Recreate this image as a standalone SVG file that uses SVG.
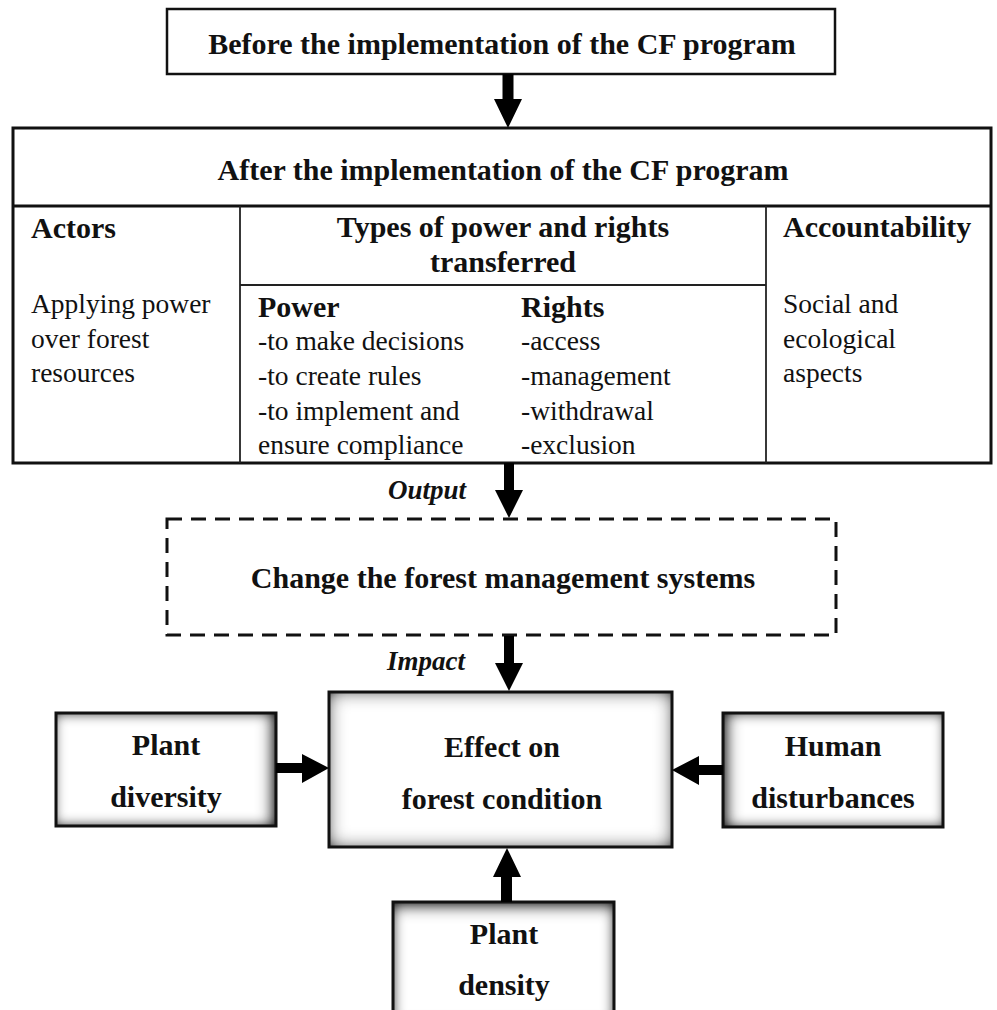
<svg xmlns="http://www.w3.org/2000/svg" width="997" height="1010" viewBox="0 0 997 1010">
<defs>
<style>
.b{font-family:"Liberation Serif","Times New Roman",serif;font-weight:bold;font-size:30px;fill:#111}
.r{font-family:"Liberation Serif","Times New Roman",serif;font-size:27.5px;fill:#111}
.i{font-family:"Liberation Serif","Times New Roman",serif;font-weight:bold;font-style:italic;font-size:27px;fill:#111}
.c{text-anchor:middle}
.box{fill:#fff;stroke:#111;stroke-width:2.5}
.edge{fill:none;stroke:#111;stroke-width:3}
.thin{fill:none;stroke:#222;stroke-width:1.8}
.sh{fill:#fff}
.arr{fill:#000}
</style>
<filter id="inAll" x="-20%" y="-20%" width="140%" height="140%">
  <feComponentTransfer in="SourceAlpha"><feFuncA type="table" tableValues="1 0"/></feComponentTransfer>
  <feGaussianBlur stdDeviation="9"/>
  <feComposite operator="in" in2="SourceAlpha"/>
  <feComponentTransfer><feFuncA type="linear" slope="1.25"/></feComponentTransfer>
  <feMerge><feMergeNode in="SourceGraphic"/><feMergeNode/></feMerge>
</filter>
<filter id="inR" x="-20%" y="-20%" width="140%" height="140%">
  <feComponentTransfer in="SourceAlpha" result="inv"><feFuncA type="table" tableValues="1 0"/></feComponentTransfer>
  <feGaussianBlur in="inv" stdDeviation="6" result="a"/>
  <feOffset in="inv" dx="-7" dy="0"/>
  <feGaussianBlur stdDeviation="7" result="b"/>
  <feMerge result="m"><feMergeNode in="a"/><feMergeNode in="b"/></feMerge>
  <feComposite in="m" operator="in" in2="SourceAlpha"/>
  <feComponentTransfer><feFuncA type="linear" slope="1.0"/></feComponentTransfer>
  <feMerge><feMergeNode in="SourceGraphic"/><feMergeNode/></feMerge>
</filter>
<filter id="inL" x="-20%" y="-20%" width="140%" height="140%">
  <feComponentTransfer in="SourceAlpha" result="inv"><feFuncA type="table" tableValues="1 0"/></feComponentTransfer>
  <feGaussianBlur in="inv" stdDeviation="6" result="a"/>
  <feOffset in="inv" dx="7" dy="0"/>
  <feGaussianBlur stdDeviation="7" result="b"/>
  <feMerge result="m"><feMergeNode in="a"/><feMergeNode in="b"/></feMerge>
  <feComposite in="m" operator="in" in2="SourceAlpha"/>
  <feComponentTransfer><feFuncA type="linear" slope="1.0"/></feComponentTransfer>
  <feMerge><feMergeNode in="SourceGraphic"/><feMergeNode/></feMerge>
</filter>
<filter id="inT" x="-20%" y="-20%" width="140%" height="140%">
  <feComponentTransfer in="SourceAlpha" result="inv"><feFuncA type="table" tableValues="1 0"/></feComponentTransfer>
  <feGaussianBlur in="inv" stdDeviation="6" result="a"/>
  <feOffset in="inv" dx="0" dy="7"/>
  <feGaussianBlur stdDeviation="7" result="b"/>
  <feMerge result="m"><feMergeNode in="a"/><feMergeNode in="b"/></feMerge>
  <feComposite in="m" operator="in" in2="SourceAlpha"/>
  <feComponentTransfer><feFuncA type="linear" slope="1.0"/></feComponentTransfer>
  <feMerge><feMergeNode in="SourceGraphic"/><feMergeNode/></feMerge>
</filter>
</defs>
<rect width="997" height="1010" fill="#fff"/>

<g id="before">
  <rect class="box" x="167" y="9" width="668" height="65"/>
  <text class="b c" x="502" y="54">Before the implementation of the CF program</text>
</g>

<g id="after">
  <rect class="edge" x="13" y="128" width="978" height="335"/>
  <line class="edge" x1="13" y1="206" x2="991" y2="206"/>
  <line class="thin" x1="240" y1="206" x2="240" y2="463"/>
  <line class="thin" x1="766" y1="206" x2="766" y2="463"/>
  <line class="thin" x1="240" y1="285" x2="766" y2="285"/>
  <text class="b c" x="503" y="180">After the implementation of the CF program</text>
  <g id="actors">
    <text class="b" x="31" y="238">Actors</text>
    <text class="r" x="31" y="313">Applying power</text>
    <text class="r" x="31" y="348">over forest</text>
    <text class="r" x="31" y="382">resources</text>
  </g>
  <g id="types">
    <text class="b c" x="503" y="237">Types of power and rights</text>
    <text class="b c" x="503" y="272">transferred</text>
    <text class="b" x="258" y="317">Power</text>
    <text class="r" x="258" y="350">-to make decisions</text>
    <text class="r" x="258" y="385">-to create rules</text>
    <text class="r" x="258" y="420">-to implement and</text>
    <text class="r" x="258" y="454">ensure compliance</text>
    <text class="b" x="521" y="317">Rights</text>
    <text class="r" x="521" y="350">-access</text>
    <text class="r" x="521" y="385">-management</text>
    <text class="r" x="521" y="420">-withdrawal</text>
    <text class="r" x="521" y="454">-exclusion</text>
  </g>
  <g id="accountability">
    <text class="b" x="783" y="237">Accountability</text>
    <text class="r" x="783" y="313">Social and</text>
    <text class="r" x="783" y="348">ecological</text>
    <text class="r" x="783" y="382">aspects</text>
  </g>
</g>

<g id="change">
  <rect x="167" y="519" width="669" height="116" fill="none" stroke="#111" stroke-width="3" stroke-dasharray="15 9"/>
  <text class="b c" x="503" y="588">Change the forest management systems</text>
</g>

<g id="effect">
  <rect class="sh" x="329" y="692" width="343" height="155" filter="url(#inAll)"/>
  <rect class="edge" x="329" y="692" width="343" height="155"/>
  <text class="b c" x="502" y="757">Effect on</text>
  <text class="b c" x="502" y="809">forest condition</text>
</g>

<g id="diversity">
  <rect class="sh" x="56" y="713" width="220" height="113" filter="url(#inR)"/>
  <rect class="edge" x="56" y="713" width="220" height="113"/>
  <text class="b c" x="166" y="755">Plant</text>
  <text class="b c" x="166" y="807">diversity</text>
</g>

<g id="human">
  <rect class="sh" x="723" y="713" width="220" height="114" filter="url(#inL)"/>
  <rect class="edge" x="723" y="713" width="220" height="114"/>
  <text class="b c" x="833" y="756">Human</text>
  <text class="b c" x="833" y="808">disturbances</text>
</g>

<g id="density">
  <rect class="sh" x="393" y="902" width="221" height="120" filter="url(#inT)"/>
  <rect class="edge" x="393" y="902" width="221" height="120"/>
  <text class="b c" x="504" y="944">Plant</text>
  <text class="b c" x="504" y="995">density</text>
</g>

<g id="connectors">
  <path class="arr" d="M502.5,74 H513.5 V99 H522 L508,128 L494,99 H502.5 Z"/>
  <path class="arr" d="M504,463 H514 V490 H523 L509,518 L495,490 H504 Z"/>
  <path class="arr" d="M504,636 H514 V663 H523 L509,691 L495,663 H504 Z"/>
  <path class="arr" d="M276,763 V773 H302 V783 L329,768 L302,754 V763 Z"/>
  <path class="arr" d="M723,765 V775 H699 V785 L672,770 L699,756 V765 Z"/>
  <path class="arr" d="M501,902 H512 V877 H521 L507,848 L493,877 H501 Z"/>
  <text class="i" x="388" y="499">Output</text>
  <text class="i" x="387" y="670">Impact</text>
</g>
</svg>
